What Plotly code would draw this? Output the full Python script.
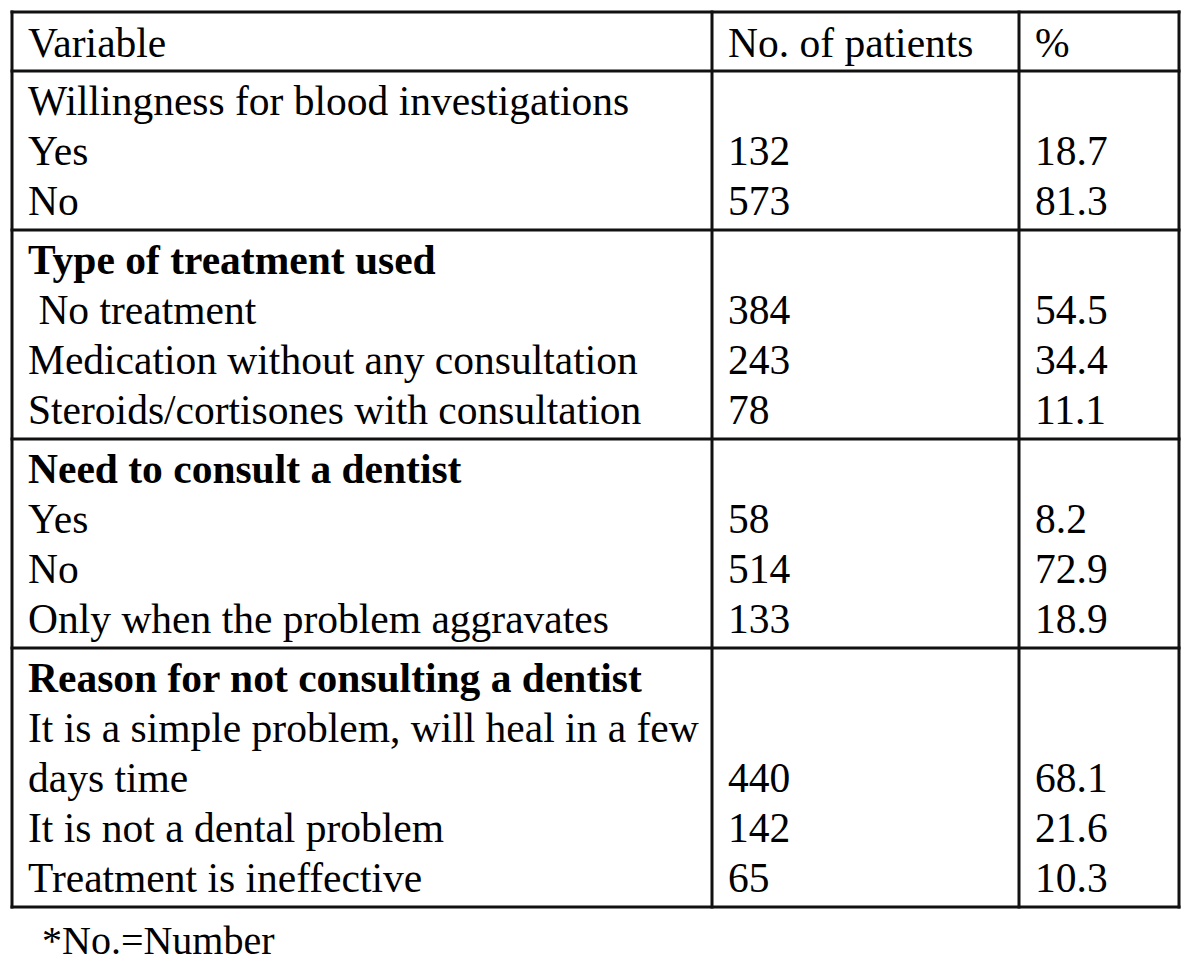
import plotly.graph_objects as go

# ---- data ----
header = ["Variable", "No. of patients", "%"]

section_titles = [
    "Willingness for blood investigations",
    "Type of treatment used",
    "Need to consult a dentist",
    "Reason for not consulting a dentist",
]
section_bold = [False, True, True, True]

items_blood = ["Yes", "No"]
counts_blood = ["132", "573"]
pcts_blood = ["18.7", "81.3"]

items_treatment = ["\u00a0No treatment", "Medication without any consultation",
                   "Steroids/cortisones with consultation"]
counts_treatment = ["384", "243", "78"]
pcts_treatment = ["54.5", "34.4", "11.1"]

items_consult = ["Yes", "No", "Only when the problem aggravates"]
counts_consult = ["58", "514", "133"]
pcts_consult = ["8.2", "72.9", "18.9"]

items_reason = ["It is a simple problem, will heal in a few\ndays time",
                "It is not a dental problem", "Treatment is ineffective"]
counts_reason = ["440", "142", "65"]
pcts_reason = ["68.1", "21.6", "10.3"]

footnote = "*No.=Number"

sections = [
    (items_blood, counts_blood, pcts_blood),
    (items_treatment, counts_treatment, pcts_treatment),
    (items_consult, counts_consult, pcts_consult),
    (items_reason, counts_reason, pcts_reason),
]

# ---- layout geometry (page pixel coordinates; page body has an 8px margin) ----
W, H = 1200, 973
PAGE_MARGIN = 8
x_left, x_c1, x_c2, x_right = 12, 712, 1019, 1179
text_x = [26, 726, 1033]
top = 12
row_h = 50
block_pad = 9
base_off = 44
fs = 41.5
font_family = "Liberation Serif, Times New Roman, serif"

fig = go.Figure()
annotations = []
shapes = []


def add_text(x, baseline, text, bold=False, size=fs):
    t = f"<b>{text}</b>" if bold else text
    annotations.append(dict(
        x=x, y=baseline - 0.3375 * size, xref="x", yref="y",
        text=t, showarrow=False, xanchor="left", yanchor="middle",
        font=dict(family=font_family, size=size, color="black"),
    ))


hlines = [top]
y = top
for j, h in enumerate(header):
    add_text(text_x[j], y + base_off + 1, h)
y += row_h + block_pad
hlines.append(y)

for si, (items, counts, pcts) in enumerate(sections):
    block_top = y
    line_i = 0
    add_text(text_x[0], block_top + base_off + line_i * row_h, section_titles[si],
             bold=section_bold[si])
    line_i += 1
    for it, c, p in zip(items, counts, pcts):
        parts = it.split("\n")
        for part in parts:
            add_text(text_x[0], block_top + base_off + line_i * row_h, part)
            line_i += 1
        last = block_top + base_off + (line_i - 1) * row_h
        add_text(text_x[1], last, c)
        add_text(text_x[2], last, p)
    y = block_top + line_i * row_h + block_pad
    hlines.append(y)

bottom = hlines[-1]
for hy in hlines:
    shapes.append(dict(type="line", x0=x_left - 1.5, x1=x_right + 1.5, y0=hy, y1=hy,
                       xref="x", yref="y", line=dict(color="#111111", width=3)))
for vx in [x_left, x_c1, x_c2, x_right]:
    shapes.append(dict(type="line", x0=vx, x1=vx, y0=top - 1.5, y1=bottom + 1.5,
                       xref="x", yref="y", line=dict(color="#111111", width=3)))

add_text(40, bottom + 47, footnote, size=40)

fig.update_layout(
    width=W - 2 * PAGE_MARGIN, height=H - 2 * PAGE_MARGIN,
    margin=dict(l=0, r=0, t=0, b=0),
    paper_bgcolor="white", plot_bgcolor="white",
    xaxis=dict(range=[PAGE_MARGIN, W - PAGE_MARGIN], visible=False, fixedrange=True),
    yaxis=dict(range=[H - PAGE_MARGIN, PAGE_MARGIN], visible=False, fixedrange=True),
    annotations=annotations, shapes=shapes, showlegend=False,
)

fig.write_html("out.html")
